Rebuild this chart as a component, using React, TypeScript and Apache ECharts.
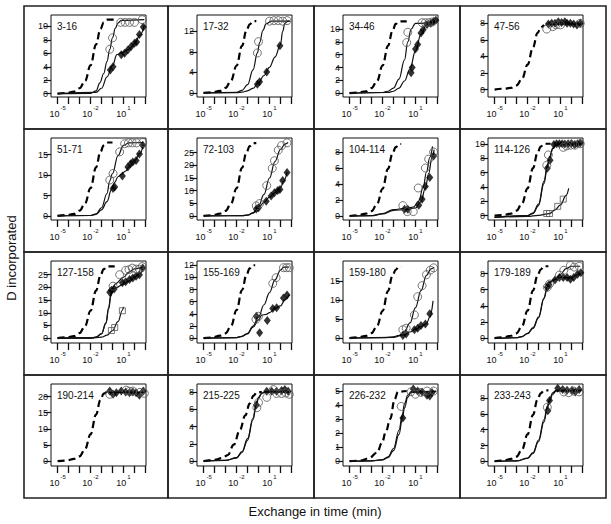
import React, { useEffect, useRef } from "react";
import * as echarts from "echarts";

// x values are log10(exchange time in min)
const xTickExps = [-5, -4, -3, -2, -1, 0, 1, 2, 3];
const xLabelExps = [-5, -2, 1];
const xMin = -5.6;
const xMax = 3.05;

const panelLabels = ["3-16", "17-32", "34-46", "47-56", "51-71", "72-103", "104-114", "114-126", "127-158", "155-169", "159-180", "179-189", "190-214", "215-225", "226-232", "233-243"];
const yMins = [-0.5, -0.8, -0.6, -0.9, -1.0, -1.6, -0.5, -0.6, -1.9, -0.8, -1.3, -0.6, -1.5, -0.57, -0.35, -0.6];
const yMaxs = [11.7, 15.2, 12.2, 9.0, 19.1, 30.8, 9.75, 10.8, 30.4, 12.7, 20.3, 9.55, 23.9, 8.95, 5.5, 9.8];
const yTicks = [
  [0, 2, 4, 6, 8, 10], [0, 4, 8, 12], [0, 2, 4, 6, 8, 10], [0, 2, 4, 6, 8],
  [0, 5, 10, 15], [0, 5, 10, 15, 20, 25], [0, 2, 4, 6, 8], [0, 2, 4, 6, 8, 10],
  [0, 5, 10, 15, 20, 25], [0, 2, 4, 6, 8, 10, 12], [0, 5, 10, 15], [0, 2, 4, 6, 8],
  [0, 5, 10, 15, 20], [0, 2, 4, 6, 8], [0, 1, 2, 3, 4, 5], [0, 2, 4, 6, 8],
];

// ---- 3-16
const dash01 = [[-5, 0], [-4.2, 0.1], [-3.5, 0.3], [-3, 0.8], [-2.5, 1.9], [-2, 4.2], [-1.5, 7.3], [-1.1, 9.6], [-0.8, 10.6], [-0.5, 11], [0.2, 11]];
const fitA01 = [[-5, 0], [-2, 0.05], [-1.5, 0.4], [-1.15, 1.6], [-0.8, 3.0], [-0.5, 4.8], [-0.25, 6.6], [0, 8.3], [0.25, 9.7], [0.5, 10.5], [0.8, 10.9], [2.9, 11]];
const fitB01 = [[-5, 0], [-1.5, 0.2], [-1, 0.8], [-0.5, 2.5], [0, 4.2], [0.4, 5.8], [0.8, 6.1], [1.5, 6.6], [2, 7.4], [2.5, 8.7], [2.9, 10.2]];
const circ01 = [[-0.25, 6.6], [0, 8.3], [0.75, 10.6], [1.15, 10.6], [1.55, 10.6], [2.0, 10.6], [2.7, 11.0]];
const diam01 = [[-0.2, 3.5], [0.05, 4.0], [0.8, 5.8], [1.1, 6.0], [1.4, 6.5], [1.7, 7.0], [2.0, 7.5], [2.2, 7.7], [2.45, 8.8], [2.8, 9.9]];
// ---- 17-32
const dash02 = [[-5, 0], [-4.2, 0.1], [-3.5, 0.4], [-3, 1.0], [-2.5, 2.4], [-2, 5.3], [-1.5, 9.2], [-1.1, 12.2], [-0.8, 13.4], [-0.5, 14], [-0.2, 14]];
const fitA02 = [[-5, 0], [-2, 0.1], [-1.5, 0.5], [-1, 1.6], [-0.5, 4.5], [-0.1, 7.8], [0.1, 9.8], [0.4, 12.2], [0.7, 13.5], [1.2, 14], [2.8, 14]];
const fitB02 = [[-5, 0], [-2, 0.05], [-1.5, 0.15], [-1, 0.4], [-0.5, 0.9], [0, 2.0], [0.5, 3.4], [1, 5], [1.5, 7], [2.0, 9.4], [2.2, 12], [2.4, 13.6], [2.7, 14], [2.9, 14]];
const circ02 = [[-0.1, 7.8], [0, 10.0], [1.0, 14.0], [1.4, 14.1], [1.8, 14.1], [2.2, 14.0], [2.6, 14.1]];
const diam02 = [[-0.1, 1.7], [0.1, 2.2], [0.75, 4.1], [1.95, 9.2]];
// ---- 34-46
const dash03 = [[-5, 0], [-4.2, 0.1], [-3.5, 0.3], [-3, 0.8], [-2.5, 1.9], [-2, 4.3], [-1.5, 7.4], [-1.1, 9.7], [-0.8, 10.8], [-0.5, 11.2], [0.2, 11.2]];
const fitA03 = [[-5, 0], [-2, 0.1], [-1.5, 0.3], [-1, 0.8], [-0.5, 2.2], [0, 5.2], [0.3, 8.0], [0.6, 10.0], [1, 10.9], [2.9, 11.1]];
const fitB03 = [[-5, 0], [-1.5, 0.1], [-1, 0.3], [-0.5, 0.8], [0, 1.9], [0.5, 3.8], [1, 6.6], [1.5, 9.2], [2, 10.6], [2.5, 11.1], [2.9, 11.3]];
const circ03 = [[0.2, 7.9], [0.3, 9.5], [1.6, 11.0], [1.9, 11.0], [2.2, 11.0], [2.5, 11.1]];
const diam03 = [[0.6, 3.2], [0.7, 4.0], [1.0, 6.9], [1.2, 7.6], [1.5, 9.4], [1.7, 9.9], [2.05, 10.7], [2.4, 10.9], [2.65, 11.2], [2.85, 11.4]];
// ---- 47-56
const dash04 = [[-5, 0], [-4.2, 0.1], [-3.5, 0.2], [-3, 0.5], [-2.5, 1.3], [-2, 3.0], [-1.5, 5.1], [-1.1, 6.8], [-0.8, 7.5], [-0.5, 7.8]];
const fitA04 = [[-0.3, 7.9], [2.9, 7.9]];
const circ04 = [[-0.25, 7.3], [0.3, 7.6], [0.6, 7.8], [1.0, 7.8], [2.8, 8.0]];
const diam04 = [[-0.1, 7.9], [0.2, 8.0], [0.5, 8.0], [0.8, 8.2], [1.1, 8.1], [1.4, 8.2], [1.6, 8.0], [1.9, 8.0], [2.2, 7.9], [2.5, 7.8], [2.8, 8.0]];
// ---- 51-71
const dash05 = [[-5, 0], [-4.2, 0.2], [-3.5, 0.5], [-3, 1.3], [-2.5, 3.1], [-2, 6.8], [-1.5, 11.9], [-1.1, 15.7], [-0.8, 17.3], [-0.5, 18], [0, 18]];
const fitA05 = [[-5, 0], [-2, 0.1], [-1.5, 0.5], [-1, 2.0], [-0.5, 5.5], [-0.25, 8.6], [0, 10.4], [0.5, 14.8], [1, 17.3], [1.5, 17.9], [2.8, 18]];
const fitB05 = [[-5, 0], [-2, 0.1], [-1.5, 0.4], [-1, 1.5], [-0.5, 3.5], [-0.1, 6.4], [0.2, 8.2], [0.5, 9.6], [0.8, 10.2], [1.2, 11], [1.5, 12], [2, 13.5], [2.5, 15.3], [2.8, 17.5]];
const circ05 = [[-0.25, 8.8], [0.05, 10.4], [0.65, 15.7], [1.1, 17.7], [1.45, 17.9], [1.8, 17.9], [2.2, 17.9], [2.75, 18.0]];
const diam05 = [[0.05, 6.7], [0.2, 7.1], [0.9, 9.8], [1.4, 12.0], [1.65, 12.8], [1.85, 13.2], [2.15, 13.6], [2.45, 15.2], [2.75, 17.3]];
// ---- 72-103
const dash06 = [[-5, 0], [-4.2, 0.3], [-3.5, 0.9], [-3, 2.0], [-2.5, 4.9], [-2, 10.9], [-1.5, 19.0], [-1.1, 25.1], [-0.8, 27.6], [-0.5, 28.8], [-0.2, 28.8]];
const fitA06 = [[-5, 0], [-1.5, 0.1], [-1, 0.3], [-0.5, 1.2], [0, 3.8], [0.5, 8.5], [1, 15], [1.5, 21.5], [2, 26.3], [2.4, 28.4], [2.7, 29]];
const fitB06 = [[-5, 0], [-1.5, 0.1], [-1, 0.3], [-0.5, 1.1], [0, 3.3], [0.5, 5.4], [1, 7.4], [1.5, 9.2], [2, 11.2], [2.3, 13.8], [2.6, 17.3]];
const circ06 = [[-0.2, 4.0], [0.1, 4.9], [0.75, 12.0], [1.25, 18.8], [1.45, 21.8], [1.8, 26], [2.1, 27.8], [2.6, 28.9]];
const diam06 = [[-0.2, 2.7], [0, 3.2], [0.7, 5.8], [1.15, 7.9], [1.45, 9.2], [1.75, 10.1], [1.95, 10.5], [2.2, 14.0], [2.6, 17.2]];
// ---- 104-114
const dash07 = [[-5, 0], [-4.2, 0.1], [-3.5, 0.3], [-3, 0.6], [-2.5, 1.5], [-2, 3.4], [-1.5, 5.9], [-1.1, 7.8], [-0.8, 8.6], [-0.5, 9], [-0.3, 9]];
const fitA07 = [[-5, 0], [-3, 0.05], [-2, 0.3], [-1, 0.8], [0, 0.95], [0.8, 1.1], [1.3, 1.9], [1.7, 3.6], [2.0, 5.5], [2.3, 7.3], [2.55, 8.7]];
const fitB07 = [[-5, 0], [-3, 0.03], [-2, 0.25], [-1, 0.7], [0, 0.8], [1, 1.0], [1.5, 1.8], [1.9, 3.5], [2.2, 5.3], [2.5, 7.3], [2.7, 8.3]];
const circ07 = [[-0.15, 1.3], [0.25, 0.55], [0.8, 0.55], [1.25, 3.5], [1.9, 6.0], [2.2, 7.1], [2.65, 8.0]];
const diam07 = [[0, 0.85], [0.3, 0.85], [1.3, 1.35], [1.6, 2.1], [1.9, 3.7], [2.3, 4.8], [2.65, 7.5]];
// ---- 114-126
const dash08 = [[-5, 0], [-4.2, 0.1], [-3.5, 0.3], [-3, 0.7], [-2.5, 1.7], [-2, 3.8], [-1.5, 6.6], [-1.1, 8.7], [-0.8, 9.6], [-0.5, 10], [0.1, 10]];
const fitA08 = [[-5, -0.2], [-2, 0], [-1.5, 0.4], [-1, 1.6], [-0.5, 4.8], [-0.2, 7.0], [0, 8.2], [0.3, 9.4], [0.6, 9.9], [1, 10], [2.9, 10]];
const fitB08 = [[-5, -0.2], [-2, 0], [-1.5, 0.3], [-1, 1.4], [-0.5, 4.5], [-0.2, 6.7], [0, 7.9], [0.3, 9.3], [0.6, 9.85], [1, 9.95], [2.9, 9.95]];
const fitC08 = [[-5, -0.25], [-2, -0.1], [-1, 0.05], [0, 0.3], [0.5, 0.8], [1, 1.5], [1.5, 2.8], [1.75, 3.8]];
const circ08 = [[-0.25, 7.0], [-0.1, 8.45], [1.25, 9.5], [1.55, 9.7], [1.9, 9.8], [2.3, 9.8], [2.8, 10]];
const diam08 = [[-0.2, 6.6], [0.05, 7.7], [0.4, 9.9], [0.65, 10], [0.9, 10], [1.15, 10], [1.4, 9.95], [1.7, 10], [2.0, 10.05], [2.3, 9.9], [2.55, 10], [2.8, 10.1]];
const sq08 = [[-0.25, 0.3], [0, 0.3], [0.75, 1.3], [1.25, 2.3]];
// ---- 127-158
const dash09 = [[-5, 0], [-4.2, 0.3], [-3.5, 0.8], [-3, 2.0], [-2.5, 4.8], [-2, 10.8], [-1.5, 18.7], [-1.1, 24.6], [-0.8, 27.2], [-0.5, 28.3], [0.2, 28.3]];
const fitA09 = [[-5, 0], [-2, 0.1], [-1.5, 0.4], [-1, 1.8], [-0.6, 6], [-0.35, 12], [-0.15, 17.5], [0.05, 20.2], [0.3, 21.5], [1, 24], [1.5, 26], [2, 27.3], [2.8, 28]];
const fitB09 = [[-5, 0], [-2, 0.1], [-1.5, 0.4], [-1, 1.7], [-0.6, 5.8], [-0.35, 11.5], [-0.15, 16.5], [0.05, 18.8], [0.3, 19.8], [1, 21.3], [1.5, 22.6], [2, 24], [2.5, 25.5], [2.8, 27.5]];
const fitC09 = [[-5, 0], [-2, 0.05], [-1, 0.4], [-0.5, 1.2], [0, 3], [0.5, 6.5], [0.9, 11], [1.0, 12.3]];
const circ09 = [[0.05, 20.5], [0.65, 25], [1.2, 26.7], [1.5, 27], [1.8, 27.6], [2.15, 27.2], [2.45, 27.2], [2.7, 28.2]];
const diam09 = [[-0.25, 18.1], [-0.1, 18.9], [0.15, 19.4], [0.9, 21.8], [1.2, 22.2], [1.55, 23.1], [1.85, 23.7], [2.15, 24.4], [2.45, 25], [2.75, 27.6]];
const sq09 = [[-0.1, 3.0], [0.2, 4.2], [0.9, 10.8]];
// ---- 155-169
const dash10 = [[-5, 0], [-4.2, 0.1], [-3.5, 0.4], [-3, 0.8], [-2.5, 2.0], [-2, 4.6], [-1.5, 7.9], [-1.1, 10.4], [-0.8, 11.5], [-0.5, 12], [-0.3, 12]];
const fitA10 = [[-5, 0], [-2, 0.1], [-1.5, 0.3], [-1, 0.8], [-0.5, 2], [0, 3.5], [0.5, 5.5], [1, 7.5], [1.5, 9.6], [2, 11.2], [2.3, 11.7], [2.8, 11.7]];
const fitB10 = [[-5, 0], [-2, 0.1], [-1.5, 0.3], [-1, 0.7], [-0.5, 1.8], [0, 3.0], [0.3, 3.8], [0.7, 3.9], [1, 4.2], [1.5, 4.9], [2, 5.3], [2.4, 6.3], [2.8, 7.2]];
const circ10 = [[-0.23, 3.1], [0.0, 3.6], [1.3, 9.0], [1.6, 9.95], [2.27, 11.6], [2.55, 11.6], [2.8, 11.6]];
const diam10 = [[-0.2, 3.6], [0.1, 0.9], [0.8, 2.9], [1.3, 4.9], [1.65, 5.0], [2.27, 6.6], [2.6, 7.1]];
// ---- 159-180
const dash11 = [[-5, 0], [-4.2, 0.2], [-3.5, 0.6], [-3, 1.3], [-2.5, 3.2], [-2, 7.1], [-1.5, 12.4], [-1.1, 16.4], [-0.8, 18.0], [-0.5, 18.8], [-0.3, 18.8]];
const fitA11 = [[-5, 0], [-2, 0.1], [-1, 0.3], [-0.5, 0.7], [0, 1.8], [0.5, 4], [1, 8], [1.5, 12.5], [2, 16.5], [2.4, 18.2], [2.7, 18.7]];
const fitB11 = [[-5, 0], [-1, 0.2], [0, 0.9], [0.5, 1.6], [1, 2.3], [1.5, 3.0], [2, 3.8], [2.3, 5.5], [2.6, 9.8]];
const circ11 = [[-0.15, 2.2], [0.15, 2.6], [0.9, 6.1], [1.2, 10.9], [1.6, 13.8], [2.0, 16.7], [2.35, 17.9], [2.65, 18.5]];
const diam11 = [[-0.15, 0.7], [0.15, 1.05], [0.9, 2.2], [1.2, 2.6], [1.5, 3.3], [1.9, 3.7], [2.3, 6.4]];
// ---- 179-189
const dash12 = [[-5, 0], [-4.2, 0.1], [-3.5, 0.3], [-3, 0.6], [-2.5, 1.5], [-2, 3.4], [-1.5, 5.9], [-1.1, 7.7], [-0.8, 8.5], [-0.5, 8.9], [-0.1, 8.9]];
const fitA12 = [[-5, 0], [-3, 0.05], [-2.5, 0.2], [-2, 0.6], [-1.5, 1.3], [-1, 2.6], [-0.5, 5.0], [-0.2, 6.4], [0, 6.9], [0.3, 7.2], [0.6, 7.4], [1, 7.9], [1.5, 8.6], [2, 8.9], [2.8, 8.9]];
const fitB12 = [[-5, 0], [-3, 0.05], [-2.5, 0.2], [-2, 0.55], [-1.5, 1.2], [-1, 2.5], [-0.5, 4.9], [-0.2, 6.3], [0, 6.8], [0.3, 7.1], [0.6, 7.3], [1, 7.5], [2, 7.5], [2.5, 7.8], [2.8, 8.0]];
const circ12 = [[-0.2, 6.3], [0.0, 6.7], [0.9, 7.8], [1.3, 8.4], [1.9, 9.0], [2.25, 8.8], [2.7, 8.9]];
const diam12 = [[-0.2, 6.3], [-0.05, 6.6], [0.5, 7.2], [0.9, 7.5], [1.25, 7.5], [1.6, 7.5], [1.9, 7.3], [2.2, 7.5], [2.55, 7.9], [2.85, 8.1]];
// ---- 190-214
const dash13 = [[-5, 0], [-4.2, 0.2], [-3.5, 0.7], [-3, 1.5], [-2.5, 3.7], [-2, 8.3], [-1.5, 14.4], [-1.1, 19.0], [-0.8, 20.9], [-0.5, 21.6]];
const fitA13 = [[-0.3, 21.3], [2.9, 21.3]];
const circ13 = [[-0.25, 20.7], [1.25, 22.0], [1.55, 21.6], [1.85, 21.7], [2.5, 21.3], [2.9, 21.0]];
const diam13 = [[-0.25, 21.7], [0.05, 20.7], [0.35, 21.2], [0.8, 21.7], [1.2, 21.4], [1.55, 21.2], [1.85, 21.4], [2.15, 21.2], [2.45, 20.4], [2.8, 21.7]];
// ---- 215-225
const dash14 = [[-5, 0], [-4, 0.15], [-3.3, 0.35], [-2.8, 0.7], [-2.25, 1.9], [-1.7, 3.6], [-1.2, 5.3], [-0.8, 6.7], [-0.45, 7.6], [-0.15, 8.0], [0.3, 8.0]];
const fitA14 = [[-5, 0], [-3, 0.1], [-2, 0.4], [-1.5, 1.1], [-1, 2.6], [-0.5, 5], [-0.2, 6.7], [0, 7.4], [0.3, 7.9], [0.6, 8.05], [2.9, 8.1]];
const fitB14 = [[-5, 0], [-3, 0.08], [-2, 0.35], [-1.5, 1.0], [-1, 2.4], [-0.5, 4.8], [-0.2, 6.5], [0, 7.3], [0.3, 7.85], [0.6, 8.0], [2.9, 8.0]];
const circ14 = [[-0.15, 6.2], [0, 6.8], [0.75, 7.4], [1.35, 8.3], [1.65, 7.85], [2.1, 7.85], [2.5, 7.9], [2.8, 7.75]];
const diam14 = [[-0.2, 6.5], [0.75, 8.1], [1.2, 8.1], [1.65, 8.1], [2.1, 8.2], [2.4, 8.3], [2.7, 8.1]];
// ---- 226-232
const dash15 = [[-5, 0], [-4, 0.03], [-3.25, 0.2], [-2.5, 0.6], [-2.05, 1.3], [-1.7, 2.1], [-1.3, 3.0], [-0.9, 4.4], [-0.6, 4.95], [0.2, 5]];
const fitA15 = [[-5, 0], [-3, 0.02], [-2, 0.1], [-1.5, 0.3], [-1, 0.9], [-0.5, 2.2], [-0.2, 3.3], [0, 4.1], [0.3, 4.7], [0.6, 4.95], [2.9, 5.0]];
const fitB15 = [[-5, 0], [-3, 0.02], [-2, 0.08], [-1.5, 0.25], [-1, 0.75], [-0.5, 1.9], [-0.2, 3.0], [0, 3.8], [0.3, 4.55], [0.6, 4.9], [2.9, 4.95]];
const circ15 = [[-0.3, 3.9], [0.6, 4.95], [1.0, 4.77], [1.5, 4.9], [2.05, 5.0], [2.65, 5.0]];
const diam15 = [[-0.15, 3.07], [0.8, 5.15], [1.2, 5.0], [1.6, 4.93], [2.05, 4.7], [2.3, 4.65], [2.5, 4.9]];
// ---- 233-243
const dash16 = [[-5, 0], [-4.2, 0.1], [-3.5, 0.3], [-3, 0.6], [-2.5, 1.5], [-2, 3.4], [-1.5, 5.9], [-1.1, 7.8], [-0.8, 8.6], [-0.5, 9], [-0.1, 9]];
const fitA16 = [[-5, 0], [-3, 0.05], [-2, 0.4], [-1.5, 1.1], [-1, 2.7], [-0.5, 5.3], [-0.2, 7.0], [0, 7.9], [0.3, 8.7], [0.6, 9.0], [2.9, 9.0]];
const fitB16 = [[-5, 0], [-3, 0.04], [-2, 0.35], [-1.5, 1.0], [-1, 2.5], [-0.5, 5.0], [-0.2, 6.7], [0, 7.6], [0.3, 8.5], [0.6, 8.9], [2.9, 8.95]];
const circ16 = [[-0.2, 6.85], [1.3, 8.8], [1.75, 8.7], [2.2, 8.9], [2.7, 8.8]];
const diam16 = [[-0.15, 6.4], [0, 7.7], [0.75, 9.25], [1.2, 9.1], [1.6, 9.0], [2.05, 9.0], [2.35, 8.8], [2.7, 9.1]];

const dashes = [dash01, dash02, dash03, dash04, dash05, dash06, dash07, dash08, dash09, dash10, dash11, dash12, dash13, dash14, dash15, dash16];
const fits = [
  [fitA01, fitB01], [fitA02, fitB02], [fitA03, fitB03], [fitA04],
  [fitA05, fitB05], [fitA06, fitB06], [fitA07, fitB07], [fitA08, fitB08, fitC08],
  [fitA09, fitB09, fitC09], [fitA10, fitB10], [fitA11, fitB11], [fitA12, fitB12],
  [fitA13], [fitA14, fitB14], [fitA15, fitB15], [fitA16, fitB16],
];
const circles = [circ01, circ02, circ03, circ04, circ05, circ06, circ07, circ08, circ09, circ10, circ11, circ12, circ13, circ14, circ15, circ16];
const diamonds = [diam01, diam02, diam03, diam04, diam05, diam06, diam07, diam08, diam09, diam10, diam11, diam12, diam13, diam14, diam15, diam16];
const squares = [[], [], [], [], [], [], [], sq08, sq09, [], [], [], [], [], [], []];

const FONT = '"Liberation Sans", Arial, Helvetica, sans-serif';
const colEdges = [24, 168, 314, 460, 606];
const rowEdges = [6, 129, 252, 375, 498];
const boxLeft = [51, 197, 343, 488];
const boxTop = [15, 138, 261, 384];
const boxW = 95;
const boxH = 82;

export default function App() {
  const ref = useRef<HTMLDivElement>(null);
  useEffect(() => {
    document.body.style.margin = "0";
    if (!ref.current) return;
    const chart = echarts.init(ref.current, null, { renderer: "svg" });
    const grids: any[] = [];
    const xAxes: any[] = [];
    const yAxes: any[] = [];
    const series: any[] = [];
    const graphics: any[] = [];
    for (let i = 0; i < 16; i++) {
      const c = i % 4;
      const r = Math.floor(i / 4);
      grids.push({
        left: boxLeft[c], top: boxTop[r], width: boxW, height: boxH,
        show: true, borderColor: "#111", borderWidth: 1, backgroundColor: "transparent",
      });
      xAxes.push({
        gridIndex: i, type: "value", min: xMin, max: xMax, position: "bottom",
        axisLine: { show: false, onZero: false }, splitLine: { show: false },
        axisTick: { show: true, length: 7, customValues: xTickExps, lineStyle: { color: "#111", width: 1.3 } },
        axisLabel: {
          customValues: xLabelExps, margin: 8, color: "#111",
          formatter: (v: number) => `{b|10}{s|${v}}`,
          rich: {
            b: { fontSize: 9, fontFamily: FONT, color: "#111", verticalAlign: "bottom", lineHeight: 13 },
            s: { fontSize: 6, fontFamily: FONT, color: "#111", verticalAlign: "top", lineHeight: 7, padding: [0, 0, 0, 1] },
          },
        },
      });
      yAxes.push({
        gridIndex: i, type: "value", min: yMins[i], max: yMaxs[i], position: "left",
        axisLine: { show: false, onZero: false }, splitLine: { show: false },
        axisTick: { show: true, length: 7, customValues: yTicks[i], lineStyle: { color: "#111", width: 1.2 } },
        axisLabel: { customValues: yTicks[i], margin: 3, fontSize: 9, fontFamily: FONT, color: "#111" },
      });
      series.push({
        type: "line", xAxisIndex: i, yAxisIndex: i, data: dashes[i], showSymbol: false,
        smooth: 0.4, smoothMonotone: "x", silent: true, z: 2,
        lineStyle: { color: "#000", width: 2.2, type: [7, 4] },
      });
      fits[i].forEach((f) => {
        series.push({
          type: "line", xAxisIndex: i, yAxisIndex: i, data: f, showSymbol: false,
          smooth: 0.4, smoothMonotone: "x", silent: true, z: 3,
          lineStyle: { color: "#111", width: 1.2 },
        });
      });
      series.push({
        type: "scatter", xAxisIndex: i, yAxisIndex: i, data: diamonds[i], symbol: "diamond",
        symbolSize: [7, 9], silent: true, z: 4, itemStyle: { color: "#000" },
      });
      series.push({
        type: "scatter", xAxisIndex: i, yAxisIndex: i, data: circles[i], symbol: "circle",
        symbolSize: 8, silent: true, z: 5,
        itemStyle: { color: "rgba(255,255,255,0)", borderColor: "#555", borderWidth: 1 },
      });
      if (squares[i].length) {
        series.push({
          type: "scatter", xAxisIndex: i, yAxisIndex: i, data: squares[i], symbol: "rect",
          symbolSize: 6, silent: true, z: 5,
          itemStyle: { color: "rgba(255,255,255,0)", borderColor: "#555", borderWidth: 1 },
        });
      }
      graphics.push({
        type: "text", left: boxLeft[c] + 6, top: boxTop[r] + 6,
        style: { text: panelLabels[i], fontSize: 10, fontFamily: FONT, fill: "#111" }, z: 10,
      });
      graphics.push({
        type: "rect",
        shape: { x: colEdges[c], y: rowEdges[r], width: colEdges[c + 1] - colEdges[c], height: rowEdges[r + 1] - rowEdges[r] },
        style: { fill: "none", stroke: "#222", lineWidth: 1.6 }, silent: true,
      });
    }
    graphics.push({
      type: "text", x: 11, y: 258, rotation: Math.PI / 2,
      style: { text: "D incorporated", fontSize: 13, fontFamily: FONT, fill: "#111", textAlign: "center", textVerticalAlign: "middle" },
    });
    graphics.push({
      type: "text", x: 315, y: 511,
      style: { text: "Exchange in time (min)", fontSize: 13, fontFamily: FONT, fill: "#111", textAlign: "center", textVerticalAlign: "middle" },
    });
    chart.setOption({
      animation: false,
      backgroundColor: "#fff",
      grid: grids,
      xAxis: xAxes,
      yAxis: yAxes,
      series,
      graphic: graphics,
    });
    return () => chart.dispose();
  }, []);
  return <div ref={ref} style={{ width: 611, height: 524 }} />;
}
